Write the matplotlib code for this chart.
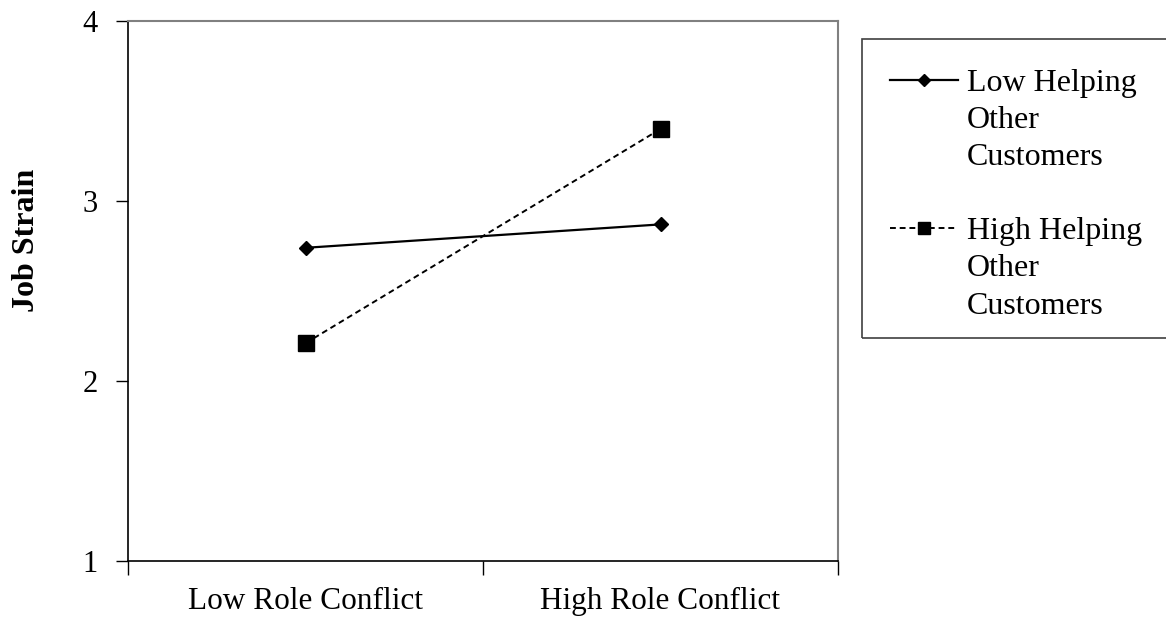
import matplotlib.pyplot as plt
from matplotlib.lines import Line2D
from matplotlib.patches import Rectangle

conditions = ["Low Role Conflict", "High Role Conflict"]
low_helping = [2.74, 2.87]
high_helping = [2.21, 3.40]
y_ticks = [1, 2, 3, 4]
legend_labels = [
    ["Low Helping", "Other", "Customers"],
    ["High Helping", "Other", "Customers"],
]

plt.rcParams["font.family"] = ["Liberation Serif", "DejaVu Serif"]

W, H = 1166, 624
fig = plt.figure(figsize=(W / 100, H / 100), dpi=100)
ax = fig.add_axes([128 / W, (H - 561) / H, 710 / W, 540 / H])

x_pos = [i + 0.5 for i in range(len(conditions))]
line_low, = ax.plot(x_pos, low_helping, color="black", lw=1.6, marker="D",
                    markersize=7.5)
line_high, = ax.plot(x_pos, high_helping, color="black", lw=1.4, ls=(0, (3, 2)),
                     marker="s", markersize=11)

ax.set_xlim(0, len(conditions))
ax.set_ylim(min(y_ticks), max(y_ticks))
ax.set_yticks(y_ticks)
ax.set_yticklabels([str(v) for v in y_ticks], fontsize=22)
ax.set_xticks(range(len(conditions) + 1))
ax.set_xticklabels([])
ax.set_xticks(x_pos, minor=True)
ax.set_xticklabels(conditions, minor=True, fontsize=22.5)
ax.tick_params(axis="x", which="minor", length=0, pad=19)
ax.tick_params(axis="x", which="major", length=10, width=1, direction="out")
ax.tick_params(axis="y", length=9, width=1, direction="out", pad=13)

for side in ["left", "bottom"]:
    ax.spines[side].set_color("black")
    ax.spines[side].set_linewidth(1.2)
for side in ["top", "right"]:
    ax.spines[side].set_color("#808080")
    ax.spines[side].set_linewidth(1.5)

fig.text(26 / W, 1 - 240 / H, "Job Strain", rotation=90, fontsize=23,
         fontweight="bold", ha="center", va="center")

# legend box, running off the right edge like the original
fig.patches.append(Rectangle((862 / W, 1 - 338 / H), 320 / W, 299 / H,
                             transform=fig.transFigure, fill=False,
                             edgecolor="#404040", lw=1.2))

# one legend row per text line, blank handles for the wrapped lines
blank = Line2D([], [], linestyle="none")
handles, labels = [], []
for i, (h, lab) in enumerate(zip([line_low, line_high], legend_labels)):
    if i > 0:
        handles.append(blank)
        labels.append("")
    handles.append(h)
    labels.append(lab[0])
    for extra in lab[1:]:
        handles.append(blank)
        labels.append(extra)

fig.legend(handles, labels, loc="upper left",
           bbox_to_anchor=(890 / W, 1 - 69 / H), frameon=False, fontsize=23,
           handlelength=2.13, handletextpad=0.28, labelspacing=0.24,
           borderpad=0, borderaxespad=0, markerscale=0.75)

fig.savefig("out.png", dpi=100)
